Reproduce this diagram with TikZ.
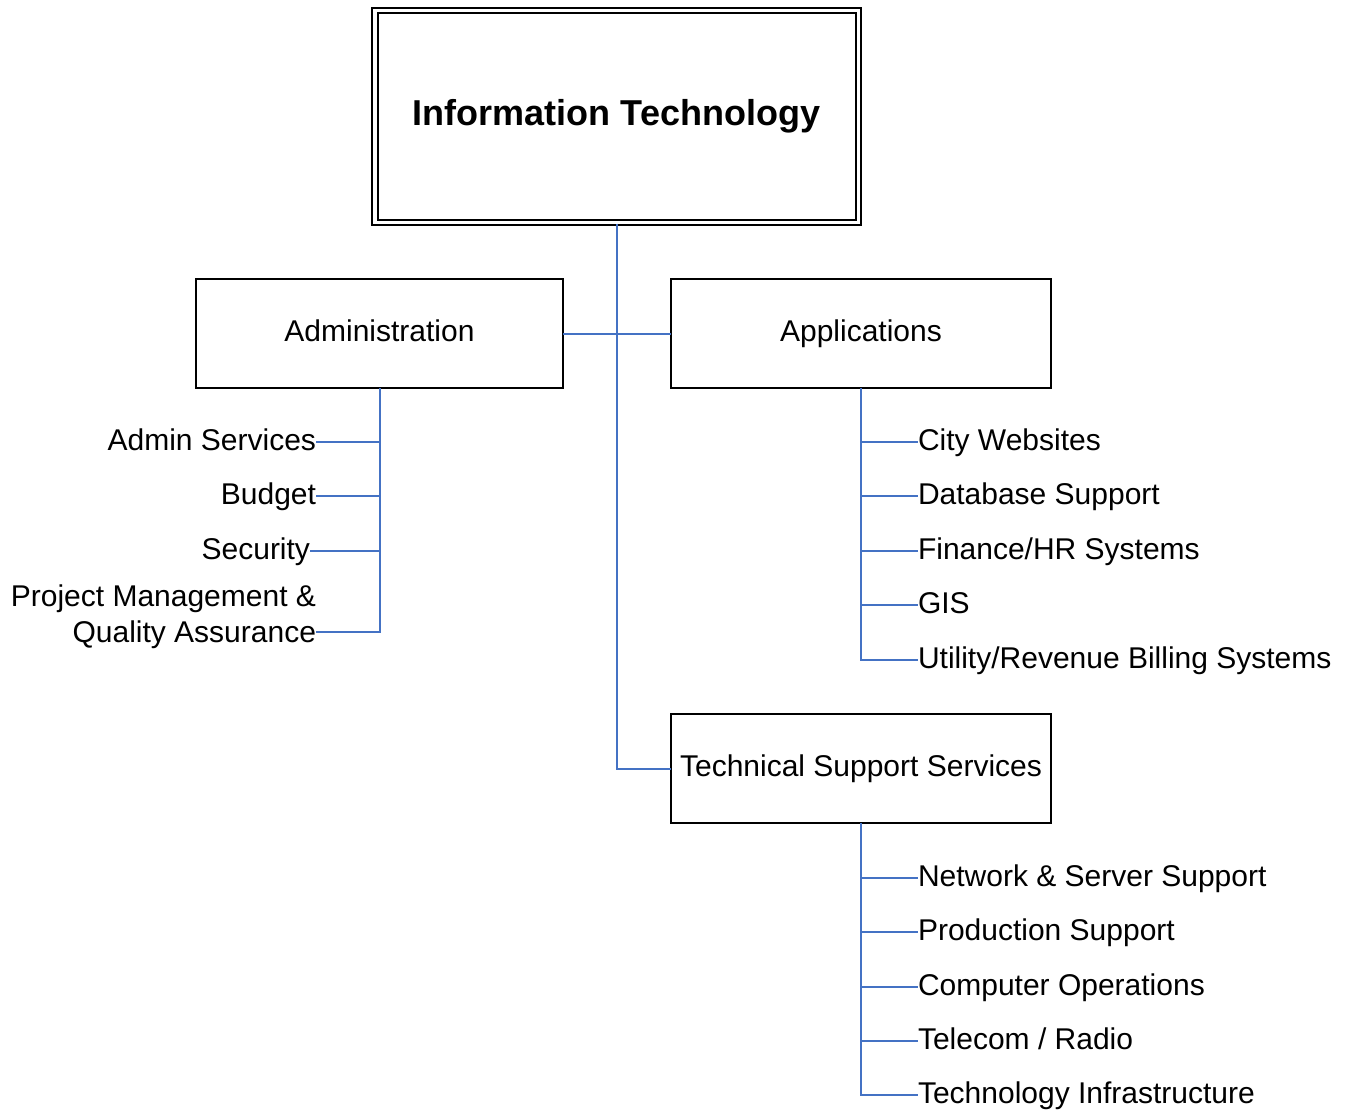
\documentclass[tikz,border=0pt]{standalone}
\usepackage{fontspec}
\setmainfont{Liberation Sans}
\definecolor{linkblue}{HTML}{4472C4}
\begin{document}
\begin{tikzpicture}[x=0.75pt,y=-0.75pt,
  unitbox/.style={draw, line width=1.5pt, inner sep=0pt, outer sep=0pt,
    font=\fontsize{22.5}{27}\selectfont, minimum height=81.75pt,
    text height=16.5pt, text depth=4.5pt},
  topbox/.style={draw, line width=1.5pt, double, double distance=2.6pt,
    inner sep=0pt, minimum width=362.6pt, minimum height=159pt,
    font=\bfseries\fontsize{27}{32}\selectfont},
  conn/.style={draw=linkblue, line width=1.5pt},
  lbl/.style={inner sep=0pt, outer sep=0pt, font=\fontsize{22.5}{27}\selectfont,
    text height=16.5pt, text depth=4.5pt},
  mlbl/.style={inner sep=0pt, outer sep=0pt, font=\fontsize{22.5}{27}\selectfont, align=right}
]
\useasboundingbox (0,0) rectangle (1349,1111);

% main boxes
\node[topbox] (it) at (616.5,116.5) {Information Technology};
\node[unitbox, minimum width=275.25pt] (adm) at (379.5,333.5) {Administration};
\node[unitbox, minimum width=285pt] (app) at (861,333.5) {Applications};
\node[unitbox, minimum width=285pt] (tss) at (861,768.5) {Technical Support Services};

% administration labels
\node[lbl, anchor=east] (a1) at (316,442) {Admin Services};
\node[lbl, anchor=east] (a2) at (316,496) {Budget};
\node[lbl, anchor=east] (a3) at (310,551) {Security};
\node[mlbl, anchor=east] (a4) at (316,617) {Project Management \&\\Quality Assurance};
\coordinate (a4c) at (316,632);

% applications labels
\node[lbl, anchor=west] (p1) at (918,442) {City Websites};
\node[lbl, anchor=west] (p2) at (918,496) {Database Support};
\node[lbl, anchor=west] (p3) at (918,551) {Finance/HR Systems};
\node[lbl, anchor=west] (p4) at (918,605) {GIS};
\node[lbl, anchor=west] (p5) at (918,660) {Utility/Revenue Billing Systems};

% technical support labels
\node[lbl, anchor=west] (t1) at (918,878) {Network \& Server Support};
\node[lbl, anchor=west] (t2) at (918,932) {Production Support};
\node[lbl, anchor=west] (t3) at (918,987) {Computer Operations};
\node[lbl, anchor=west] (t4) at (918,1041) {Telecom / Radio};
\node[lbl, anchor=west] (t5) at (918,1095) {Technology Infrastructure};

% connectors
\draw[conn] (it.south) |- (tss.west);
\draw[conn] (adm.east) -- (app.west);

\draw[conn] (adm.south) |- (a4c);
\foreach \n in {a1,a2,a3} \draw[conn] (adm.south) |- (\n.east);

\draw[conn] (app.south) |- (p5.west);
\foreach \n in {p1,p2,p3,p4} \draw[conn] (app.south) |- (\n.west);

\draw[conn] (tss.south) |- (t5.west);
\foreach \n in {t1,t2,t3,t4} \draw[conn] (tss.south) |- (\n.west);
\end{tikzpicture}
\end{document}
